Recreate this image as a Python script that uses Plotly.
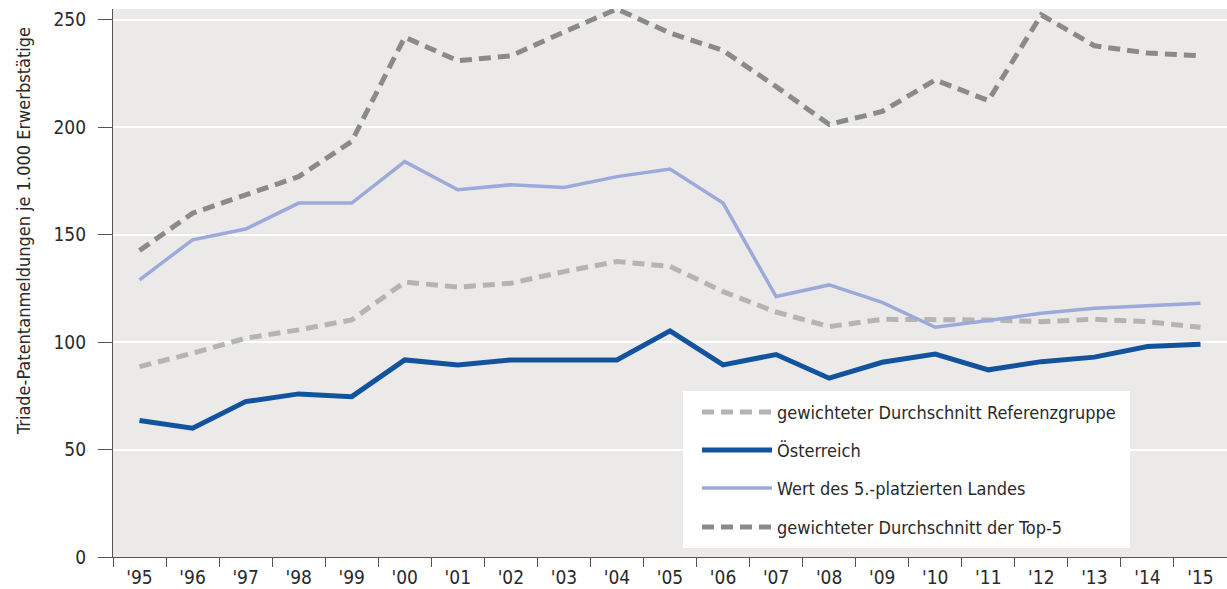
import plotly.graph_objects as go

# ---------------- data ----------------
years = ["'95", "'96", "'97", "'98", "'99", "'00", "'01", "'02", "'03", "'04", "'05",
         "'06", "'07", "'08", "'09", "'10", "'11", "'12", "'13", "'14", "'15"]

referenzgruppe = [88.6, 94.8, 101.8, 105.7, 110.3, 127.9, 125.6, 127.4, 132.8, 137.5, 135.2,
                  123.5, 114.0, 107.2, 110.6, 110.6, 110.3, 109.5, 110.6, 109.5, 106.9]
oesterreich = [63.5, 59.9, 72.3, 75.9, 74.6, 91.7, 89.4, 91.7, 91.7, 91.7, 105.2,
               89.4, 94.2, 83.2, 90.6, 94.4, 87.1, 90.9, 93.0, 97.9, 99.0]
fuenft_platz = [129.0, 147.6, 152.6, 164.7, 164.7, 184.0, 170.9, 173.2, 171.9, 177.0, 180.5,
                164.7, 121.2, 126.6, 118.5, 106.9, 110.0, 113.4, 115.8, 116.9, 118.1]
top5 = [142.6, 160.0, 168.5, 177.0, 193.4, 241.9, 230.9, 233.2, 244.3, 255.0, 243.8,
        235.7, 218.9, 201.3, 207.3, 222.0, 212.4, 252.3, 237.9, 234.5, 233.2]

series_names = ["gewichteter Durchschnitt Referenzgruppe", "Österreich",
                "Wert des 5.-platzierten Landes", "gewichteter Durchschnitt der Top-5"]
series_values = [referenzgruppe, oesterreich, fuenft_platz, top5]

y_title = "Triade-Patentanmeldungen je 1.000 Erwerbstätige"

# ---------------- styles ----------------
colors = ["#B4B4B4", "#13539E", "#9CAADB", "#8A8A8A"]
widths = [5, 5, 3.5, 5]
dashes = ["12px,7px", "solid", "solid", "12px,7px"]

FONT = "DejaVu Sans Condensed, Liberation Sans Narrow, sans-serif"
TXT = "#2a2a2a"
W, H = 1227, 589
ML, MR, MT, MB = 113, 0, 9, 32
PW, PH = W - ML - MR, H - MT - MB


def px_x(x):
    return (x - ML) / PW


def px_y(y):
    return (H - MB - y) / PH


fig = go.Figure()
for name, vals, c, w, d in zip(series_names, series_values, colors, widths, dashes):
    fig.add_trace(go.Scatter(
        x=years, y=vals, name=name, mode="lines",
        line=dict(color=c, width=w, dash=d),
        showlegend=False, hoverinfo="x+y+name",
    ))

# ---------------- custom legend ----------------
shapes = [dict(type="rect", xref="paper", yref="paper",
               x0=px_x(683), x1=px_x(1130), y0=px_y(548), y1=px_y(391),
               fillcolor="white", line=dict(width=0), layer="above")]
annotations = []
legend_rows = [412, 450, 488, 527]
for name, c, w, d, yy in zip(series_names, colors, widths, dashes, legend_rows):
    shapes.append(dict(type="line", xref="paper", yref="paper",
                       x0=px_x(702), x1=px_x(772), y0=px_y(yy), y1=px_y(yy),
                       line=dict(color=c, width=w, dash=d), layer="above"))
    annotations.append(dict(xref="paper", yref="paper", x=px_x(775), y=px_y(yy),
                            text=name, showarrow=False, xanchor="left", yanchor="middle",
                            font=dict(family=FONT, size=18, color=TXT)))

annotations.append(dict(xref="paper", yref="paper", x=px_x(23), y=px_y(231),
                        text=y_title, textangle=-90, showarrow=False,
                        xanchor="center", yanchor="middle",
                        font=dict(family=FONT, size=18, color=TXT)))

fig.update_layout(
    width=W, height=H,
    margin=dict(l=ML, r=MR, t=MT, b=MB, pad=0),
    paper_bgcolor="white",
    plot_bgcolor="#EBEAE8",
    font=dict(family=FONT, size=19, color=TXT),
    shapes=shapes,
    annotations=annotations,
    showlegend=False,
    xaxis=dict(
        type="category", tickson="boundaries", ticks="outside", ticklen=9,
        tickcolor="#555555", tickwidth=1.2, showline=True, linecolor="#555555",
        linewidth=1.2, showgrid=False, zeroline=False,
        tickfont=dict(family=FONT, size=19, color=TXT),
        ticklabelstandoff=3,
        range=[-0.5, len(years) - 0.5],
    ),
    yaxis=dict(
        range=[0, 255], tickvals=[0, 50, 100, 150, 200, 250],
        ticks="outside", ticklen=14, tickcolor="#555555", tickwidth=1.2,
        showline=True, linecolor="#555555", linewidth=1.2,
        showgrid=True, gridcolor="white", gridwidth=2, zeroline=False,
        tickfont=dict(family=FONT, size=19, color=TXT),
        ticklabelstandoff=8,
    ),
)

fig.write_html(
    "out.html",
    config={"displayModeBar": False},
    post_script="document.body.style.margin='0';document.body.style.overflow='hidden';",
)
